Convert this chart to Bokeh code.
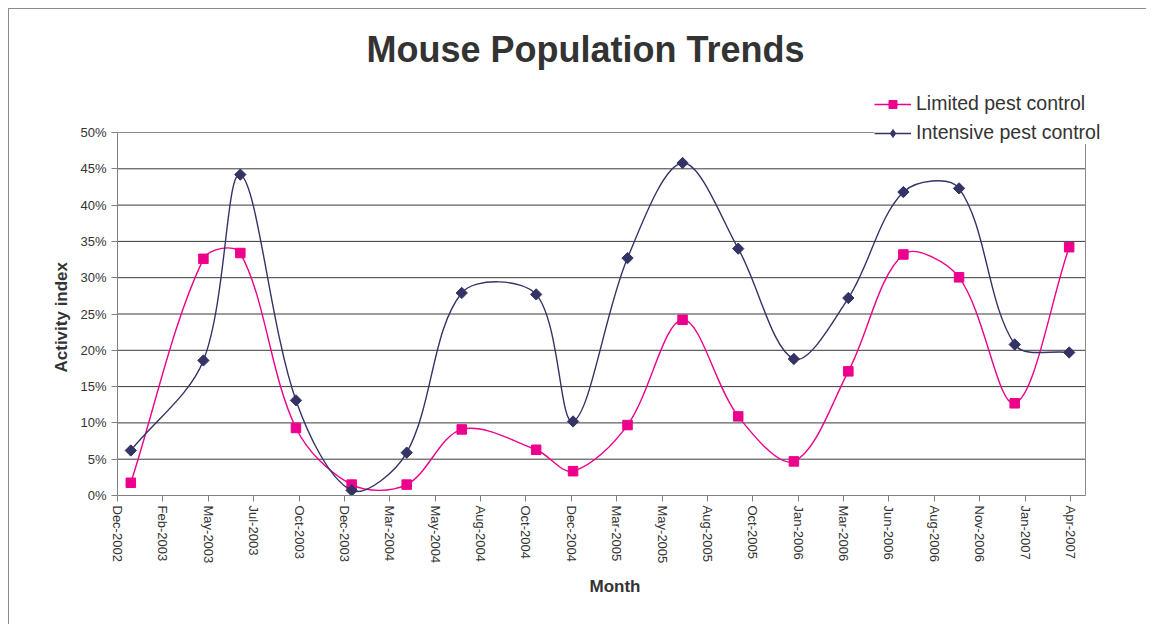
import math
from datetime import datetime, timedelta

from bokeh.plotting import figure
from bokeh.models import (Range1d, FixedTicker, NumeralTickFormatter, Legend, LegendItem,
                          ColumnDataSource, Title)
from bokeh.embed import file_html
from bokeh.resources import INLINE

# ---------------- data ----------------
dates = ["2003-01-01", "2003-05-01", "2003-07-01", "2003-10-01", "2004-01-01", "2004-04-01",
         "2004-07-01", "2004-11-01", "2005-01-01", "2005-04-01", "2005-07-01", "2005-10-01",
         "2006-01-01", "2006-04-01", "2006-07-01", "2006-10-01", "2007-01-01", "2007-04-01"]
limited = [0.0175, 0.326, 0.334, 0.093, 0.015, 0.015, 0.091, 0.063, 0.0335, 0.097,
           0.242, 0.109, 0.047, 0.171, 0.332, 0.3005, 0.127, 0.342]
intensive = [0.062, 0.186, 0.442, 0.131, 0.007, 0.059, 0.279, 0.277, 0.102, 0.327,
             0.458, 0.340, 0.188, 0.272, 0.418, 0.423, 0.208, 0.197]
series_names = ["Limited pest control", "Intensive pest control"]
tick_labels = ["Dec-2002", "Feb-2003", "May-2003", "Jul-2003", "Oct-2003", "Dec-2003",
               "Mar-2004", "May-2004", "Aug-2004", "Oct-2004", "Dec-2004", "Mar-2005",
               "May-2005", "Aug-2005", "Oct-2005", "Jan-2006", "Mar-2006", "Jun-2006",
               "Aug-2006", "Nov-2006", "Jan-2007", "Apr-2007"]
y_ticks = [0.0, 0.05, 0.10, 0.15, 0.20, 0.25, 0.30, 0.35, 0.40, 0.45, 0.50]
axis_start = "2002-12-10"
tick_step_days = 75
axis_span_days = 1600

PINK = "#EC008C"
NAVY = "#333366"
FONT = "Liberation Sans"
TXT = "#333333"

# ---------------- geometry (px) ----------------
W, H = 1146, 624
FRAME_L, FRAME_R, FRAME_T, FRAME_B = 117, 1112, 84, 495
AREA_R, AREA_T = 1085, 132          # right / top edge of the plot area (50 %)

EPOCH = datetime(1970, 1, 1)


def to_ms(d):
    return (d - EPOCH).total_seconds() * 1000.0


x_ms = [to_ms(datetime.strptime(d, "%Y-%m-%d")) for d in dates]
start_dt = datetime.strptime(axis_start, "%Y-%m-%d")
x0_ms = to_ms(start_dt)
area_end_ms = to_ms(start_dt + timedelta(days=axis_span_days))
tick_ms = [int(to_ms(start_dt + timedelta(days=tick_step_days * k))) for k in range(len(tick_labels))]

px_per_ms = (AREA_R - FRAME_L) / (area_end_ms - x0_ms)
px_per_unit = (FRAME_B - AREA_T) / (y_ticks[-1] - y_ticks[0])
x_end_ms = x0_ms + (FRAME_R - FRAME_L) / px_per_ms
y_top = y_ticks[-1] + (AREA_T - FRAME_T) / px_per_unit

p = figure(width=W, height=H, output_backend="svg", toolbar_location=None,
           x_axis_type="datetime",
           x_range=Range1d(x0_ms, x_end_ms), y_range=Range1d(0, y_top),
           min_border_left=FRAME_L, min_border_right=W - FRAME_R,
           min_border_top=FRAME_T, min_border_bottom=H - FRAME_B)

# chart-area border (top & left edges) drawn behind a transparent canvas border
p.styles = {"background": "linear-gradient(#8c8c8c,#8c8c8c) 8px 8px / calc(100% - 8px) 1px no-repeat, "
                          "linear-gradient(#8c8c8c,#8c8c8c) 8px 8px / 1px calc(100% - 8px) no-repeat, #ffffff"}
p.border_fill_color = None
p.background_fill_color = "white"
p.outline_line_color = None

# title
p.title.text = "Mouse Population Trends"
p.title.text_font = FONT
p.title.text_font_size = "36px"
p.title.text_font_style = "bold"
p.title.text_color = TXT
p.title.align = "left"
p.title.offset = 249
p.title.standoff = 30

# y-axis title (placed as a side title so it centres on the plot area, not the frame)
ytitle = Title(text="Activity index", align="left", offset=123, standoff=14,
               text_font=FONT, text_font_size="17px", text_font_style="bold", text_color=TXT)
p.add_layout(ytitle, "left")

# grid: horizontal lines across the plot area only
p.xgrid.visible = False
p.ygrid.visible = False
p.segment(x0=[x0_ms] * (len(y_ticks) - 1), x1=[area_end_ms] * (len(y_ticks) - 1),
          y0=y_ticks[:-1], y1=y_ticks[:-1], line_color="#3a3a3a", line_width=1)
# plot-area border: top and right
p.segment(x0=[x0_ms, area_end_ms], x1=[area_end_ms, area_end_ms],
          y0=[y_ticks[-1], y_ticks[0]], y1=[y_ticks[-1], y_ticks[-1]],
          line_color="#8a8a8a", line_width=1)

# axes
xa = p.xaxis[0]
xa.bounds = (x0_ms, area_end_ms)
xa.ticker = FixedTicker(ticks=tick_ms)
xa.major_label_overrides = {t: lab for t, lab in zip(tick_ms, tick_labels)}
xa.major_label_orientation = -math.pi / 2
xa.major_label_text_font = FONT
xa.major_label_text_font_size = "13px"
xa.major_label_text_color = TXT
xa.major_label_standoff = 4
xa.axis_label = "Month"
xa.axis_label_text_font = FONT
xa.axis_label_text_font_size = "17px"
xa.axis_label_text_font_style = "bold"
xa.axis_label_text_color = TXT
xa.axis_label_standoff = 11
xa.axis_line_color = "#808080"
xa.major_tick_line_color = "#808080"
xa.major_tick_out = 6
xa.major_tick_in = 0
xa.minor_tick_line_color = None

ya = p.yaxis[0]
ya.bounds = (y_ticks[0], y_ticks[-1])
ya.ticker = FixedTicker(ticks=y_ticks)
ya.formatter = NumeralTickFormatter(format="0%")
ya.major_label_text_font = FONT
ya.major_label_text_font_size = "13px"
ya.major_label_text_color = TXT
ya.major_label_standoff = 5
ya.axis_line_color = "#808080"
ya.major_tick_line_color = "#808080"
ya.major_tick_out = 6
ya.major_tick_in = 0
ya.minor_tick_line_color = None


def smooth_segments(xs, ys):
    """Bezier segments with chord-length weighted tangents (Excel-like smoothing)."""
    n = len(xs)
    X = [x * px_per_ms for x in xs]
    Y = [y * px_per_unit for y in ys]
    d = dict(x0=[], y0=[], x1=[], y1=[], cx0=[], cy0=[], cx1=[], cy1=[])

    def dist(i, j):
        return math.hypot(X[j] - X[i], Y[j] - Y[i])

    for i in range(n - 1):
        a = max(i - 1, 0)
        b = min(i + 2, n - 1)
        seg = dist(i, i + 1)
        dl = dist(a, i)
        f0 = seg / (dl + seg) / 3.0 if (dl + seg) > 0 else 0
        dr = dist(i + 1, b)
        f1 = seg / (dr + seg) / 3.0 if (dr + seg) > 0 else 0
        d["x0"].append(xs[i]); d["y0"].append(ys[i])
        d["x1"].append(xs[i + 1]); d["y1"].append(ys[i + 1])
        d["cx0"].append(xs[i] + (xs[i + 1] - xs[a]) * f0)
        d["cy0"].append(ys[i] + (ys[i + 1] - ys[a]) * f0)
        d["cx1"].append(xs[i + 1] - (xs[b] - xs[i]) * f1)
        d["cy1"].append(ys[i + 1] - (ys[b] - ys[i]) * f1)
    return ColumnDataSource(d)


items = []
for name, vals, color, marker, msize, ang, leg_marker, leg_size in [
        (series_names[0], limited, PINK, "square", 9.5, 0.0, "square", 9),
        (series_names[1], intensive, NAVY, "square", 8, math.pi / 4, "diamond", 11)]:
    ln = p.bezier(x0="x0", y0="y0", x1="x1", y1="y1", cx0="cx0", cy0="cy0", cx1="cx1", cy1="cy1",
                  source=smooth_segments(x_ms, vals), line_color=color, line_width=1.4)
    p.scatter(x=x_ms, y=vals, marker=marker, size=msize, angle=ang,
              fill_color=color, line_color=color)
    # legend swatch (kept outside the visible range; only its legend glyph is seen)
    sw = p.scatter(x=[x_ms[0]], y=[-1.0], marker=leg_marker, size=leg_size,
                   fill_color=color, line_color=color)
    items.append(LegendItem(label=name, renderers=[ln, sw]))

legend = Legend(items=items, location=(757, 351), orientation="vertical",
                label_text_font=FONT, label_text_font_size="19.5px", label_text_color=TXT,
                glyph_width=37, glyph_height=20, label_height=20, label_standoff=5,
                spacing=6, padding=8, margin=0,
                border_line_color=None, background_fill_color="white", background_fill_alpha=1.0)
p.add_layout(legend, "center")

open("out.html", "w").write(file_html(p, INLINE))
